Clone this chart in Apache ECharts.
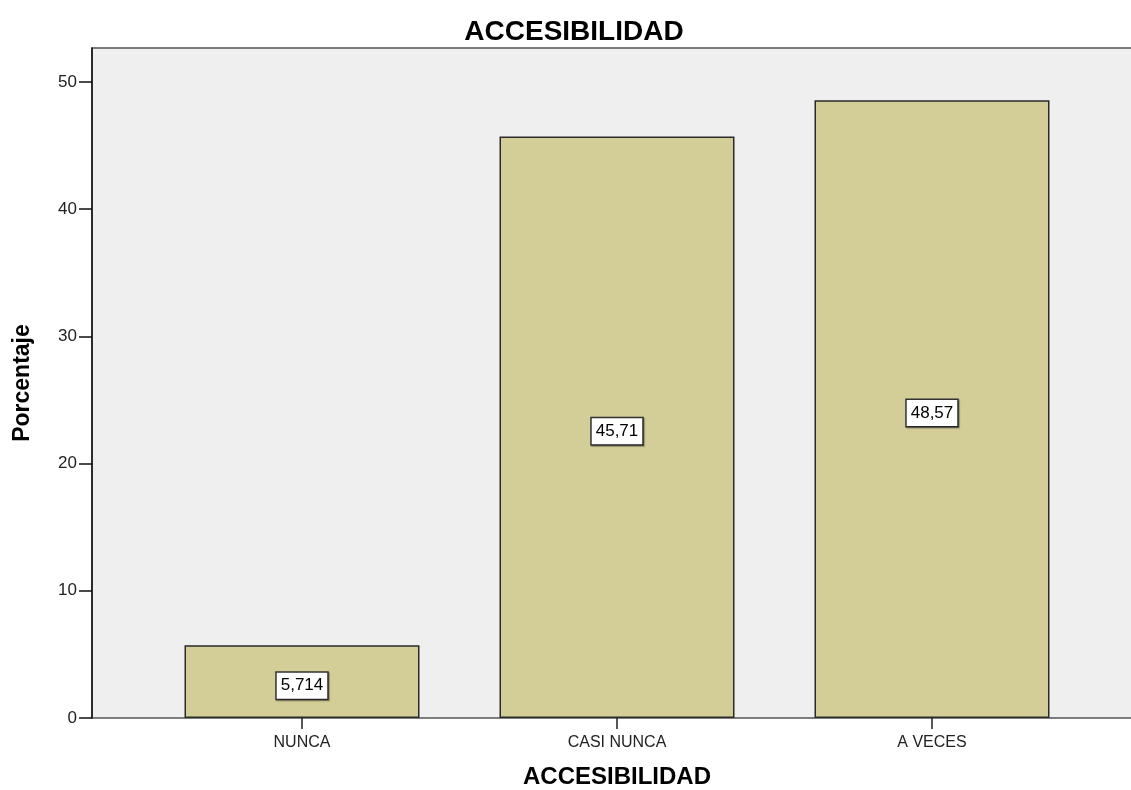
<!DOCTYPE html>
<html>
<head>
<meta charset="utf-8">
<script src="https://cdn.jsdelivr.net/npm/echarts@6/dist/echarts.min.js"></script>
<style>
  html, body { margin: 0; padding: 0; background: #ffffff; }
  #chart { width: 1131px; height: 790px; }
</style>
</head>
<body>
<div id="chart"></div>
<script>
// Category labels and percentages per answer
const categories = ['NUNCA', 'CASI NUNCA', 'A VECES'];
const percentages = [5.714, 45.71, 48.57];
const labelTexts = ['5,714', '45,71', '48,57'];
const yTicks = [0, 10, 20, 30, 40, 50];

const chart = echarts.init(document.getElementById('chart'), null, { renderer: 'canvas' });
const font = '"Liberation Sans", Arial, sans-serif';
const yMax = 52.67;

chart.setOption({
  animation: false,
  title: {
    text: 'ACCESIBILIDAD',
    left: 569, top: 13, textAlign: 'center',
    textStyle: { fontFamily: font, fontSize: 28, fontWeight: 'bold', color: '#000' }
  },
  grid: [
    { // plot frame
      left: 92, right: -3, top: 48, bottom: 72,
      outerBoundsMode: 'none', containLabel: false,
      show: true, backgroundColor: '#efefef', borderColor: '#555', borderWidth: 1.5
    },
    { // bar band area
      left: 144.5, right: 1131 - 1089.5, top: 48, bottom: 72,
      outerBoundsMode: 'none', containLabel: false
    }
  ],
  xAxis: [
    { gridIndex: 0, type: 'value', show: false, min: 0, max: 1 },
    {
      gridIndex: 1, type: 'category', data: categories, boundaryGap: true,
      name: 'ACCESIBILIDAD', nameLocation: 'middle', nameGap: 47,
      nameTextStyle: { fontFamily: font, fontSize: 24, fontWeight: 'bold', color: '#000' },
      axisLine: { show: false },
      axisTick: { show: true, alignWithLabel: true, length: 11, lineStyle: { color: '#222', width: 1.5 } },
      axisLabel: { fontFamily: font, fontSize: 16, color: '#222', margin: 17 }
    }
  ],
  yAxis: [
    {
      gridIndex: 0, type: 'value', min: 0, max: yMax, interval: 10,
      name: 'Porcentaje', nameLocation: 'middle', nameGap: 58, nameRotate: 90,
      nameTextStyle: { fontFamily: font, fontSize: 23, fontWeight: 'bold', color: '#000' },
      axisLine: { show: true, lineStyle: { color: '#111', width: 1.5 } },
      axisTick: { show: true, inside: false, length: 13, lineStyle: { color: '#111', width: 1.5 } },
      axisLabel: {
        fontFamily: font, fontSize: 17, color: '#222', margin: 15, showMaxLabel: false,
        formatter: v => (yTicks.includes(v) ? String(v) : '')
      },
      splitLine: { show: false }
    },
    { gridIndex: 1, type: 'value', min: 0, max: yMax, show: false }
  ],
  series: [{
    type: 'bar',
    xAxisIndex: 1, yAxisIndex: 1,
    data: percentages,
    barWidth: 235,
    itemStyle: { color: '#d3ce98', borderColor: '#2a2a2a', borderWidth: 1.5 },
    label: {
      show: true, position: 'inside', offset: [0, 4],
      formatter: p => labelTexts[p.dataIndex],
      fontFamily: font, fontSize: 17, color: '#000',
      backgroundColor: '#ffffff', borderColor: '#333', borderWidth: 1.5,
      padding: [5, 4, 4, 4],
      shadowColor: 'rgba(0,0,0,0.35)', shadowOffsetX: 1, shadowOffsetY: 1, shadowBlur: 1
    }
  }]
});
</script>
</body>
</html>
